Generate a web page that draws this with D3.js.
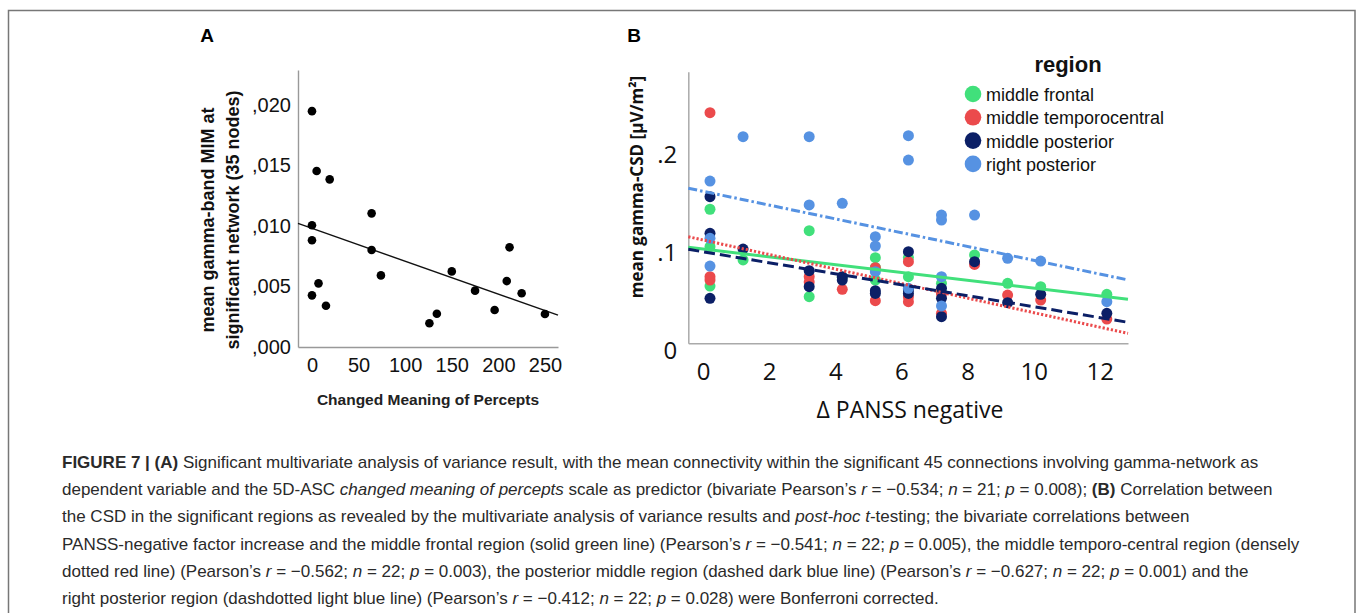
<!DOCTYPE html>
<html>
<head>
<meta charset="utf-8">
<script src="https://cdn.jsdelivr.net/npm/d3@7"></script>
<style>
  body { margin: 0; background: #fff; }
  svg { display: block; }
  text { white-space: pre; }
</style>
</head>
<body>
<svg id="fig" width="1358" height="613"></svg>
<script>
// panel A: changed meaning of percepts vs mean gamma-band MIM
const aX = [0, 5, 19, 0, 0, 7, 0, 15, 64, 64, 74, 126, 134, 150, 175, 196, 209, 212, 225, 250];
const aY = [0.0195, 0.01455, 0.01386, 0.01006, 0.00882, 0.00526, 0.00427, 0.00341, 0.01105, 0.00802,
            0.00592, 0.00196, 0.00275, 0.00625, 0.00466, 0.00306, 0.00545, 0.00824, 0.00444, 0.00273];
const aFit = [0.00981, -0.0000272];   // intercept, slope
const aXTicks = [0, 50, 100, 150, 200, 250];
const aYTicks = [0, 0.005, 0.010, 0.015, 0.020];

// panel B: delta PANSS negative vs mean gamma-CSD, four regions
const regions = ['middle frontal', 'middle temporocentral', 'middle posterior', 'right posterior'];
const regionColors = ['#41e07b', '#eb4a4c', '#0b1f66', '#5692e2'];
const bFrontal = [[0,0.1445],[0,0.1062],[0,0.0659],[1,0.0926],[3,0.1226],[3,0.0550],[4,0.075],[5,0.0949],
  [5,0.0721],[5,0.085],[6,0.095],[6,0.0755],[7,0.0687],[7,0.060],[8,0.0977],[9,0.0687],[10,0.0652],[12,0.0574]];
const bTemporo = [[0,0.2434],[0,0.0755],[0,0.0721],[3,0.0755],[3,0.070],[4,0.0626],[5,0.0847],[5,0.0509],
  [6,0.0908],[6,0.0499],[6,0.055],[7,0.058],[7,0.038],[8,0.088],[9,0.0567],[10,0.0516],[12,0.0321]];
const bPosterior = [[0,0.1574],[0,0.1199],[0,0.0533],[1,0.1038],[3,0.0816],[3,0.0652],[4,0.0755],[4,0.072],
  [5,0.0611],[5,0.0584],[6,0.1011],[6,0.0584],[6,0.062],[7,0.0636],[7,0.0533],[7,0.0345],[8,0.0908],
  [9,0.0489],[10,0.0574],[12,0.038]];
const bRight = [[0,0.1734],[0,0.1148],[0,0.0864],[1,0.2188],[3,0.2188],[3,0.1489],[4,0.1506],[5,0.1164],
  [5,0.1069],[5,0.0806],[6,0.2198],[6,0.1949],[6,0.0636],[7,0.1386],[7,0.1335],[7,0.0755],[7,0.0455],
  [8,0.1386],[9,0.0943],[10,0.0915],[12,0.0499]];
const bFits = [[0.1030, -0.00401], [0.1115, -0.00744], [0.0998, -0.00562], [0.1614, -0.00706]];
const bXTicks = [0, 2, 4, 6, 8, 10, 12];
const bYTicks = [0, 0.1, 0.2];

const caption = [
  [['FIGURE 7 | (A)','b'],[' Significant multivariate analysis of variance result, with the mean connectivity within the significant 45 connections involving gamma-network as','']],
  [['dependent variable and the 5D-ASC ',''],['changed meaning of percepts','i'],[' scale as predictor (bivariate Pearson\u2019s ',''],['r','i'],[' = \u22120.534; ',''],['n','i'],[' = 21; ',''],['p','i'],[' = 0.008); ',''],['(B)','b'],[' Correlation between','']],
  [['the CSD in the significant regions as revealed by the multivariate analysis of variance results and ',''],['post-hoc','i'],[' ',''],['t','i'],['-testing; the bivariate correlations between','']],
  [['PANSS-negative factor increase and the middle frontal region (solid green line) (Pearson\u2019s ',''],['r','i'],[' = \u22120.541; ',''],['n','i'],[' = 22; ',''],['p','i'],[' = 0.005), the middle temporo-central region (densely','']],
  [['dotted red line) (Pearson\u2019s ',''],['r','i'],[' = \u22120.562; ',''],['n','i'],[' = 22; ',''],['p','i'],[' = 0.003), the posterior middle region (dashed dark blue line) (Pearson\u2019s ',''],['r','i'],[' = \u22120.627; ',''],['n','i'],[' = 22; ',''],['p','i'],[' = 0.001) and the','']],
  [['right posterior region (dashdotted light blue line) (Pearson\u2019s ',''],['r','i'],[' = \u22120.412; ',''],['n','i'],[' = 22; ',''],['p','i'],[' = 0.028) were Bonferroni corrected.','']]
];

const svg = d3.select('#fig');
const arial = 'Arial, "Liberation Sans", sans-serif';
const calib = '"Open Sans", sans-serif';

// outer frame (open at the bottom, cropped)
svg.append('path')
  .attr('d', 'M8.5,620 V10.5 H1355 V620')
  .attr('fill', 'none').attr('stroke', '#777').attr('stroke-width', 1.5);

svg.append('text').attr('x', 207).attr('y', 42).attr('text-anchor', 'middle')
  .style('font', `bold 19px ${arial}`).text('A');
svg.append('text').attr('x', 634).attr('y', 42).attr('text-anchor', 'middle')
  .style('font', `bold 19px ${arial}`).text('B');

////////// panel A
const xA = d3.scaleLinear([-15, 264], [298, 558]);
const yA = d3.scaleLinear([0, 0.0229], [347, 70]);
const fmtA = d => d3.format('.3f')(d).replace('0.', ',');

const gA = svg.append('g');
gA.append('g').attr('transform', 'translate(0,347)')
  .call(d3.axisBottom(xA).tickValues(aXTicks).tickSize(0).tickSizeOuter(0).tickPadding(11))
  .call(g => g.select('.domain').attr('stroke', '#999').attr('stroke-width', 1.4))
  .call(g => g.selectAll('text').style('font', `20px ${arial}`).attr('fill', '#111'));
gA.append('g').attr('transform', 'translate(298,0)')
  .call(d3.axisLeft(yA).tickValues(aYTicks).tickSize(0).tickSizeOuter(0).tickPadding(7).tickFormat(fmtA))
  .call(g => g.select('.domain').attr('stroke', '#999').attr('stroke-width', 1.4))
  .call(g => g.selectAll('text').style('font', `20px ${arial}`).attr('fill', '#111'));

gA.append('line')
  .attr('x1', xA(-15)).attr('y1', yA(aFit[0] + aFit[1] * -15))
  .attr('x2', xA(264)).attr('y2', yA(aFit[0] + aFit[1] * 264))
  .attr('stroke', '#111').attr('stroke-width', 1.4);

gA.selectAll('circle.pa').data(aX.map((x, i) => [x, aY[i]])).join('circle')
  .attr('class', 'pa')
  .attr('cx', d => xA(d[0])).attr('cy', d => yA(d[1])).attr('r', 4.3).attr('fill', '#000');

gA.append('text').attr('x', 428).attr('y', 405).attr('text-anchor', 'middle')
  .style('font', `bold 15.5px ${arial}`).attr('fill', '#222').text('Changed Meaning of Percepts');
const aTitle = gA.append('text').attr('transform', 'translate(0,220) rotate(-90)')
  .attr('text-anchor', 'middle').style('font', `bold 18px ${arial}`).attr('fill', '#111');
aTitle.append('tspan').attr('x', 0).attr('y', 214).text('mean gamma-band MIM at');
aTitle.append('tspan').attr('x', 0).attr('y', 239).text('significant network (35 nodes)');

////////// panel B
const xB = d3.scaleLinear([-0.656, 12.64], [688.3, 1128]);
const yB = d3.scaleLinear([0.0073, 0.2853], [343.3, 71.7]);
const fmtB = d => d === 0 ? '0' : d3.format('.1f')(d).replace('0.', '.');

const gB = svg.append('g');
gB.append('g').attr('transform', 'translate(0,343.3)')
  .call(d3.axisBottom(xB).tickValues(bXTicks).tickSize(0).tickSizeOuter(0).tickPadding(20))
  .call(g => g.select('.domain').attr('stroke', '#aaa').attr('stroke-width', 1.5))
  .call(g => g.selectAll('text').attr('dx', -7).style('font', `24px ${calib}`).attr('fill', '#111'));
gB.append('g').attr('transform', 'translate(688.3,0)')
  .call(d3.axisLeft(yB).tickValues(bYTicks).tickSize(0).tickSizeOuter(0).tickPadding(11).tickFormat(fmtB))
  .call(g => g.select('.domain').attr('stroke', '#aaa').attr('stroke-width', 1.5))
  .call(g => g.selectAll('text').style('font', `24px ${calib}`).attr('fill', '#111'));

const series = [bFrontal, bTemporo, bPosterior, bRight];
series.forEach((pts, k) => {
  gB.append('g').selectAll('circle').data(pts).join('circle')
    .attr('cx', d => xB(d[0])).attr('cy', d => yB(d[1])).attr('r', 5.5)
    .attr('fill', regionColors[k]);
});

const dashes = [null, '2.2,2', '11,5', '9,3,2.5,3'];
bFits.forEach((f, k) => {
  const [x0, x1] = xB.domain();
  gB.append('line')
    .attr('x1', xB(x0)).attr('y1', yB(f[0] + f[1] * x0))
    .attr('x2', xB(x1)).attr('y2', yB(f[0] + f[1] * x1))
    .attr('stroke', regionColors[k]).attr('stroke-width', 3)
    .attr('stroke-dasharray', dashes[k]);
});

gB.append('text').attr('x', 910).attr('y', 418).attr('text-anchor', 'middle')
  .style('font', `23px ${calib}`).attr('fill', '#111').text('\u0394 PANSS negative');
gB.append('text').attr('transform', 'translate(643,187) rotate(-90)')
  .attr('text-anchor', 'middle').style('font', `bold 17px ${calib}`).attr('fill', '#111')
  .text('mean gamma-CSD [\u00b5V/m\u00b2]');

// legend
const leg = gB.append('g');
leg.append('text').attr('x', 1068).attr('y', 72).attr('text-anchor', 'middle')
  .style('font', `bold 22px ${arial}`).attr('fill', '#111').text('region');
regions.forEach((r, k) => {
  const y = 94 + k * 23.3;
  leg.append('circle').attr('cx', 973).attr('cy', y).attr('r', 8.3).attr('fill', regionColors[k]);
  leg.append('text').attr('x', 986).attr('y', y + 7).style('font', `18px ${arial}`)
    .attr('fill', '#111').text(r);
});

////////// caption
const cap = svg.append('text').style('font', `17px ${arial}`).attr('fill', '#2a2a2a');
caption.forEach((line, i) => {
  line.forEach((seg, j) => {
    const t = cap.append('tspan').text(seg[0]);
    if (j === 0) t.attr('x', 62).attr('y', 468 + i * 27.2);
    if (seg[1] === 'b') t.attr('font-weight', 'bold');
    if (seg[1] === 'i') t.attr('font-style', 'italic');
  });
});
</script>
</body>
</html>
